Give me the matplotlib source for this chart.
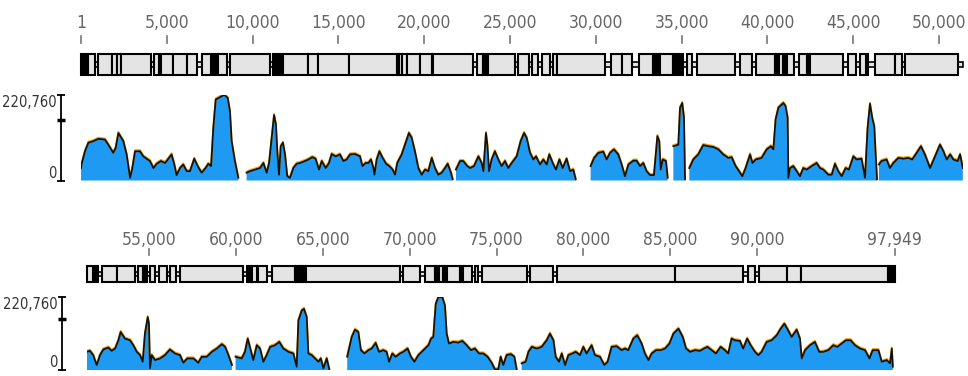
import numpy as np
import matplotlib.pyplot as plt
from matplotlib import font_manager
from matplotlib.patches import Rectangle
from matplotlib.transforms import offset_copy

nan = np.nan
MAX_COV = 220760
GENOME_END = 97949
ROW_SPLIT = 51400

# pick a narrow face if one is installed (labels in the reference are condensed)
_fonts = font_manager.fontManager.ttflist
if any(f.name == 'Liberation Sans Narrow' for f in _fonts):
    FONT = dict(family=['Liberation Sans Narrow', 'DejaVu Sans'], fontsize=13.5)
elif any(f.name == 'DejaVu Sans' and f.stretch in ('condensed', 'semi-condensed') for f in _fonts):
    FONT = dict(family=['DejaVu Sans'], fontstretch='condensed', fontsize=12.5)
else:
    FONT = dict(family=['Liberation Sans', 'DejaVu Sans'], fontsize=12)
YFONT = dict(FONT, fontsize=FONT['fontsize'] - 2)

# ruler ticks
row1_ticks = [1, 5000, 10000, 15000, 20000, 25000, 30000, 35000, 40000, 45000, 50000]
row2_ticks = [55000, 60000, 65000, 70000, 75000, 80000, 85000, 90000, 97949]

# annotated features (start kb, end kb, kind) kind: g = gene box, k = dense black block
row1_genes = [
    (0.0, 0.29, 'k'), (0.43, 0.82, 'g'), (1.01, 1.79, 'g'), (1.79, 2.08, 'g'),
    (2.08, 2.31, 'g'), (2.31, 4.06, 'g'), (4.25, 4.56, 'g'), (4.64, 5.38, 'g'),
    (5.38, 6.16, 'g'), (6.16, 6.74, 'g'), (7.03, 7.56, 'g'), (7.71, 7.87, 'k'),
    (8.00, 8.49, 'g'), (8.68, 11.01, 'g'), (11.17, 11.79, 'k'), (11.79, 13.25, 'g'),
    (13.25, 13.83, 'g'), (13.83, 15.64, 'g'), (15.64, 18.40, 'g'), (18.40, 18.52, 'k'),
    (18.52, 18.69, 'g'), (18.69, 19.02, 'g'), (19.02, 19.76, 'g'), (19.76, 20.44, 'g'),
    (20.44, 20.53, 'k'), (20.53, 22.86, 'g'), (23.08, 23.44, 'g'), (23.44, 23.68, 'k'),
    (23.74, 25.29, 'g'), (25.48, 26.12, 'g'), (26.26, 26.65, 'g'), (26.85, 27.33, 'g'),
    (27.49, 27.76, 'g'), (27.76, 30.55, 'g'), (30.87, 31.51, 'g'), (31.51, 32.09, 'g'),
    (32.54, 33.35, 'g'), (33.35, 33.74, 'k'), (33.74, 34.52, 'g'), (34.52, 35.10, 'k'),
    (35.30, 35.59, 'g'), (35.88, 38.11, 'g'), (38.40, 39.08, 'g'), (39.34, 40.44, 'g'),
    (40.44, 40.69, 'k'), (40.69, 40.89, 'g'), (40.89, 41.12, 'k'), (41.12, 41.55, 'g'),
    (41.86, 42.29, 'g'), (42.29, 42.48, 'k'), (42.48, 44.42, 'g'), (44.72, 45.16, 'g'),
    (45.40, 45.75, 'g'), (45.79, 45.88, 'k'), (46.27, 47.44, 'g'), (47.44, 47.83, 'g'),
    (48.02, 51.12, 'g'),
]
row2_genes = [
    (51.40, 51.77, 'g'), (51.87, 52.06, 'k'), (52.26, 53.12, 'g'), (53.12, 54.18, 'g'),
    (54.37, 54.62, 'g'), (54.62, 54.85, 'k'), (55.04, 55.33, 'g'), (55.58, 56.00, 'g'),
    (56.19, 56.54, 'g'), (56.77, 60.41, 'g'), (60.61, 60.90, 'k'), (60.90, 61.19, 'g'),
    (61.28, 61.76, 'g'), (62.05, 63.39, 'g'), (63.39, 63.68, 'k'), (63.68, 63.78, 'g'),
    (63.78, 64.03, 'k'), (64.03, 69.44, 'g'), (69.63, 70.59, 'g'), (70.88, 71.46, 'g'),
    (71.46, 71.71, 'k'), (71.71, 71.94, 'g'), (71.94, 72.13, 'k'), (72.13, 72.90, 'g'),
    (72.90, 73.09, 'k'), (73.09, 73.57, 'g'), (73.76, 73.95, 'g'), (74.15, 76.74, 'g'),
    (76.93, 78.27, 'g'), (78.50, 85.28, 'g'), (85.28, 89.22, 'g'), (89.50, 89.89, 'g'),
    (90.14, 91.72, 'g'), (91.72, 92.52, 'g'), (92.52, 97.57, 'g'), (97.57, 97.949, 'k'),
]

# coverage, position in kb and depth in thousands (nan = no coverage)
row1_pos_kb = [
    0.0, 0.04, 0.23, 0.43, 0.72, 1.01, 1.40, 1.59, 1.88, 2.02, 2.18, 2.47, 2.66, 2.86, 2.99,
    3.15, 3.44, 3.63, 3.83, 4.02, 4.22, 4.41, 4.66, 4.90, 5.09, 5.28, 5.44, 5.57, 5.77, 5.96,
    6.16, 6.35, 6.60, 6.80, 7.03, 7.26, 7.42, 7.58, 7.71, 7.85, 8.10, 8.35, 8.55, 8.68, 8.78,
    8.97, 9.17, 9.20, 9.65, 9.85, 10.14, 10.43, 10.63, 10.82, 10.96, 11.11, 11.25, 11.36,
    11.44, 11.54, 11.64, 11.77, 11.89, 12.02, 12.18, 12.37, 12.57, 12.76, 13.05, 13.25,
    13.48, 13.67, 13.87, 14.03, 14.26, 14.45, 14.61, 14.84, 15.09, 15.29, 15.48, 15.68,
    15.97, 16.26, 16.40, 16.59, 16.75, 16.90, 17.04, 17.10, 17.23, 17.39, 17.58, 17.78,
    17.97, 18.16, 18.30, 18.43, 18.69, 18.88, 19.11, 19.27, 19.46, 19.66, 19.85, 20.05,
    20.24, 20.44, 20.63, 20.82, 21.02, 21.21, 21.37, 21.56, 21.66, 21.70, 21.85, 22.09,
    22.28, 22.51, 22.67, 22.90, 23.16, 23.35, 23.45, 23.60, 23.68, 23.78, 23.93, 24.12,
    24.32, 24.51, 24.71, 24.90, 25.10, 25.39, 25.62, 25.82, 25.97, 26.17, 26.36, 26.52,
    26.75, 26.94, 27.14, 27.29, 27.49, 27.68, 27.88, 28.07, 28.30, 28.50, 28.69, 28.83,
    28.90, 29.70, 29.90, 30.15, 30.44, 30.63, 30.83, 31.06, 31.31, 31.51, 31.70, 31.90,
    32.19, 32.38, 32.58, 32.77, 32.96, 33.16, 33.39, 33.59, 33.70, 33.78, 33.90, 34.09,
    34.19, 34.25, 34.52, 34.81, 34.91, 35.04, 35.14, 35.20, 35.30, 35.45, 35.68, 35.97,
    36.26, 36.56, 36.85, 37.14, 37.43, 37.72, 37.92, 38.15, 38.35, 38.54, 38.73, 38.99,
    39.13, 39.32, 39.66, 39.96, 40.21, 40.35, 40.48, 40.64, 40.93, 41.06, 41.18, 41.22,
    41.32, 41.51, 41.71, 41.90, 42.09, 42.29, 42.58, 42.87, 43.07, 43.26, 43.55, 43.75,
    43.94, 44.13, 44.33, 44.56, 44.75, 45.01, 45.20, 45.49, 45.69, 45.84, 45.98, 46.11,
    46.23, 46.31, 46.39, 46.44, 46.50, 46.65, 46.95, 47.14, 47.34, 47.63, 47.92, 48.21,
    48.44, 48.70, 48.95, 49.18, 49.48, 49.77, 50.06, 50.26, 50.45, 50.65, 50.84, 51.09,
    51.23, 51.39,
]
row1_cov_k = [
    32, 43, 75, 97, 101, 107, 105, 92, 71, 84, 122, 101, 67, 7, 32,
    75, 75, 62, 56, 50, 32, 43, 50, 45, 56, 67, 41, 14, 32, 41,
    24, 24, 56, 37, 20, 32, 43, 37, 135, 208, 214, 220, 212, 178, 101,
    50, 7, nan, 20, 24, 28, 32, 45, 20, 45, 110, 168, 144,
    75, 15, 88, 97, 67, 11, 7, 32, 43, 45, 50, 54,
    60, 56, 28, 50, 32, 45, 68, 62, 67, 50, 54, 67,
    68, 62, 37, 45, 45, 54, 32, 15, 54, 75, 58, 43,
    37, 28, 15, 45, 67, 92, 122, 110, 75, 32, 15, 28,
    24, 58, 32, 15, 20, 32, 43, 20, 3, nan, 28, 50,
    50, 37, 32, 37, 62, 45, 24, 122, 92, 24, 54, 75,
    54, 37, 50, 32, 45, 62, 101, 122, 110, 71, 54, 62,
    41, 54, 41, 67, 45, 28, 54, 32, 56, 24, 28, 3,
    nan, 37, 58, 71, 74, 54, 71, 80, 67, 41, 11, 41,
    51, 51, 37, 45, 24, 14, 14, 114, 101, 28, 54, 50,
    7, nan, 88, 92, 187, 199, 161, 3, nan, 32, 54, 67,
    91, 88, 86, 80, 67, 58, 60, 37, 24, 11, 32, 67,
    45, 54, 58, 80, 88, 80, 157, 187, 199, 191, 161, 7,
    32, 37, 24, 11, 32, 28, 37, 45, 32, 28, 15, 15,
    43, 24, 11, 32, 28, 62, 54, 56, 7, 135, 197, 161,
    139, 67, 3, nan, 41, 50, 54, 32, 45, 58, 56, 58,
    54, 71, 88, 67, 32, 62, 92, 75, 54, 67, 54, 50,
    67, 32,
]

row2_pos_kb = [
    51.40, 51.58, 51.77, 51.97, 52.16, 52.35, 52.64, 52.83, 53.03, 53.22, 53.35, 53.60,
    53.89, 54.08, 54.28, 54.47, 54.62, 54.75, 54.91, 54.98, 55.04, 55.14, 55.33, 55.62,
    55.90, 56.19, 56.48, 56.77, 56.96, 57.19, 57.54, 57.82, 58.02, 58.31, 58.60, 58.89,
    59.18, 59.37, 59.56, 59.76, 59.80, 59.97, 60.32, 60.51, 60.67, 60.84, 60.99, 61.19,
    61.38, 61.57, 61.76, 61.96, 62.24, 62.49, 62.72, 63.01, 63.30, 63.49, 63.59, 63.78,
    63.91, 64.07, 64.16, 64.36, 64.55, 64.74, 64.88, 65.03, 65.22, 65.37, 65.40, 66.40,
    66.66, 66.85, 67.04, 67.19, 67.39, 67.62, 67.81, 68.04, 68.23, 68.48, 68.67, 68.81,
    69.00, 69.19, 69.44, 69.63, 69.88, 70.07, 70.27, 70.50, 70.79, 71.08, 71.23, 71.36,
    71.50, 71.65, 71.88, 72.03, 72.13, 72.26, 72.51, 72.80, 73.03, 73.28, 73.53, 73.76,
    73.99, 74.24, 74.49, 74.72, 74.91, 75.10, 75.24, 75.39, 75.58, 75.83, 76.03, 76.16,
    76.20, 76.45, 76.68, 76.84, 77.03, 77.32, 77.60, 77.89, 78.08, 78.28, 78.41, 78.60,
    78.76, 78.95, 79.14, 79.37, 79.56, 79.81, 80.00, 80.19, 80.48, 80.67, 80.96, 81.21,
    81.40, 81.63, 81.92, 82.21, 82.40, 82.59, 82.88, 83.11, 83.36, 83.55, 83.75, 83.94,
    84.19, 84.46, 84.71, 84.96, 85.19, 85.48, 85.73, 85.92, 86.15, 86.44, 86.72, 86.95,
    87.15, 87.40, 87.64, 87.91, 88.16, 88.35, 88.54, 88.73, 89.02, 89.21, 89.44, 89.64,
    89.89, 90.08, 90.27, 90.56, 90.85, 91.14, 91.37, 91.58, 91.75, 92.00, 92.29, 92.48,
    92.58, 92.77, 93.06, 93.34, 93.59, 93.82, 94.11, 94.40, 94.63, 94.88, 95.13, 95.40,
    95.65, 95.94, 96.23, 96.48, 96.67, 97.00, 97.19, 97.48, 97.67, 97.77, 97.83,
]
row2_cov_k = [
    55, 58, 45, 15, 45, 62, 68, 58, 65, 90, 115, 95,
    90, 75, 55, 45, 25, 110, 160, 140, 5, 45, 30, 35,
    45, 62, 50, 45, 22, 35, 35, 22, 40, 40, 55, 65,
    78, 70, 45, 15, nan, 40, 35, 55, 95, 60, 30, 75,
    65, 25, 45, 70, 75, 85, 65, 55, 50, 10, 150, 180,
    185, 160, 50, 45, 35, 25, 35, 5, 35, 2, nan, 40,
    100, 122, 115, 60, 50, 60, 65, 82, 55, 60, 55, 25,
    50, 40, 50, 55, 65, 40, 25, 45, 60, 75, 95, 100,
    200, 220, 220, 195, 110, 80, 85, 83, 88, 75, 60, 65,
    50, 50, 40, 22, 2, 2, 40, 15, 45, 48, 40, 2,
    nan, 20, 25, 55, 70, 65, 70, 90, 110, 90, 40, 25,
    50, 15, 45, 50, 55, 45, 70, 50, 75, 45, 40, 15,
    25, 70, 72, 60, 65, 60, 95, 105, 80, 50, 30, 50,
    60, 60, 65, 80, 110, 125, 100, 65, 55, 60, 58, 65,
    70, 60, 50, 70, 60, 50, 95, 90, 88, 65, 95, 75,
    55, 45, 55, 85, 90, 105, 125, 140, 125, 100, 122, 95,
    35, 60, 75, 85, 55, 55, 60, 75, 70, 80, 90, 90,
    75, 65, 60, 35, 60, 60, 25, 30, 20, 65, 10,
]

W, H = 968, 376
fig = plt.figure(figsize=(W / 100, H / 100), dpi=100)


def px_axes(x0, x1, top, bottom):
    return fig.add_axes([x0 / W, 1 - bottom / H, (x1 - x0) / W, (bottom - top) / H])


def draw_row(x0, x1, span, box, label_y, tick_py, cov_box, yaxis_x, ticks, genes, pos_kb, cov_k):
    box_top, box_bot = box
    hbox = box_bot - box_top

    def py2y(py):
        return (box_bot - py) / hbox

    # gene track + ruler
    ax = px_axes(x0, x1, box_top, box_bot)
    ax.set_xlim(span)
    ax.set_ylim(0, 1)
    ax.axis('off')
    ax.add_patch(Rectangle((span[0], 0.4), span[1] - span[0], 0.2, fc='#e4e4e4', ec='black',
                           lw=1.2, clip_on=False, zorder=1))
    for s, e, kind in genes:
        fc = 'black' if kind == 'k' else '#e4e4e4'
        ax.add_patch(Rectangle((s * 1000, 0), (e - s) * 1000, 1, fc=fc, ec='black', lw=1.5,
                               clip_on=False, zorder=2))
    for t in ticks:
        ax.plot([t, t], [py2y(tick_py[0]), py2y(tick_py[1])], color='#777777', lw=1.2,
                clip_on=False)
        ax.text(t, py2y(label_y), f'{t:,}', ha='center', va='center', color='#666666', **FONT)

    # coverage
    cx = np.array(pos_kb) * 1000
    cy = np.array(cov_k, dtype=float) * 1000
    ax2 = px_axes(x0, x1, cov_box[0], cov_box[1])
    ax2.set_xlim(span)
    ax2.set_ylim(0, MAX_COV)
    ax2.fill_between(cx, cy, color='#1e9af2', lw=0)
    ax2.plot(cx, cy, color='#f2a516', lw=1.3,
             transform=offset_copy(ax2.transData, fig=fig, x=0, y=1.2, units='dots'))
    ax2.plot(cx, cy, color='#111111', lw=1.3)
    for side in ('top', 'right', 'bottom'):
        ax2.spines[side].set_visible(False)
    ax2.spines['left'].set_position(('outward', (x0 - yaxis_x) * 0.72))
    ax2.spines['left'].set_bounds(0, MAX_COV)
    ax2.spines['left'].set_linewidth(1.3)
    ax2.set_xticks([])
    ax2.set_yticks([0, MAX_COV], ['0', f'{MAX_COV:,}'])
    ax2.set_yticks([155000], minor=True)
    ax2.tick_params(axis='y', which='major', direction='inout', length=6, width=1.3, pad=0.5,
                    labelcolor='#333333')
    ax2.tick_params(axis='y', which='minor', direction='inout', length=6, width=2.5)
    labels = ax2.get_yticklabels()
    labels[0].set_va('bottom')
    labels[1].set_va('top')
    for lab in labels:
        lab.update(YFONT)


draw_row(81, 963, (0, ROW_SPLIT), (54, 75), 23, (36, 43), (94.5, 180.5), 61,
         row1_ticks, row1_genes, row1_pos_kb, row1_cov_k)
draw_row(86.8, 894.9, (ROW_SPLIT, GENOME_END), (266, 282), 240, (249, 255), (297, 370), 62,
         row2_ticks, row2_genes, row2_pos_kb, row2_cov_k)

fig.savefig('out.png', dpi=100)
